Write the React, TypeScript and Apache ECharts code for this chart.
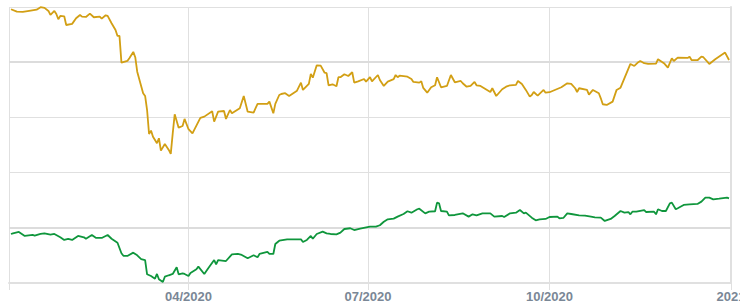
import React, { useEffect, useRef } from "react";
import * as echarts from "echarts";

// Day offsets from 1 Jan 2020
const goldDays = [1,4,7,11,14,16,18,20,21,23,24,25,26,28,29,32,34,36,37,39,41,43,46,47,49,50,52,54,55,56,57,60,61,63,64,65,68,69,70,71,72,73,75,76,77,79,81,82,83,84,86,88,89,91,93,95,97,99,103,104,106,109,110,112,113,117,119,121,124,125,126,131,132,134,135,137,138,140,142,146,148,149,152,153,154,156,158,160,161,162,164,166,167,168,170,172,174,175,177,180,181,183,184,187,188,190,192,195,196,197,198,202,204,205,208,209,210,212,214,216,217,219,222,224,226,229,230,232,234,236,237,239,244,245,247,250,252,254,257,258,260,262,264,265,266,268,271,272,274,280,283,285,287,288,289,293,294,296,299,300,301,303,306,308,310,315,317,319,320,322,324,328,329,332,334,336,337,339,344,345,346,349,351,352,355,358,363,365];
const goldValues = [248.0,245.8,245.5,246.7,247.6,249.8,249.2,246.4,242.8,246.4,243.7,238.9,241.9,241.6,233.7,234.7,239.8,242.8,241.3,241.0,244.0,240.7,241.3,239.5,242.5,241.9,235.3,229.2,223.8,223.8,199.6,201.1,203.6,209.3,204.5,191.4,171.9,169.4,156.7,135.0,138.0,132.5,126.6,131.1,119.9,125.9,120.5,116.9,135.6,152.8,140.7,142.2,148.6,139.3,135.6,142.5,149.5,150.7,155.6,146.1,155.2,155.8,148.6,156.7,153.7,158.3,169.4,155.2,154.3,158.3,162.2,162.2,164.3,153.7,162.2,170.3,171.2,171.9,169.4,174.2,181.5,174.9,180.3,189.4,186.0,197.2,196.9,190.5,190.0,179.1,180.0,178.2,186.4,186.4,189.1,187.5,190.9,181.5,182.7,184.8,182.4,186.4,182.7,188.4,183.9,178.5,182.4,184.6,188.4,186.4,187.8,186.9,184.8,182.1,181.5,182.7,176.7,172.4,177.3,179.1,186.4,177.3,178.5,188.4,181.8,183.0,180.9,177.8,178.5,182.1,179.1,178.5,173.0,176.4,169.4,175.5,177.8,179.1,179.4,183.0,180.3,174.9,168.8,170.3,173.0,169.7,174.9,172.4,172.8,177.3,180.9,180.3,176.4,173.0,176.4,174.9,170.6,174.9,171.9,167.3,161.9,161.3,164.3,174.9,176.9,198.4,196.6,200.0,201.1,199.1,198.4,198.7,202.7,199.1,195.1,203.6,201.1,204.1,203.9,205.0,202.0,201.8,205.0,204.5,198.4,202.7,208.7,202.0];

const greenDays = [1,2,5,8,12,13,16,18,21,23,26,28,30,32,35,38,39,42,44,47,50,52,55,57,58,60,63,65,67,69,70,72,74,75,76,78,79,81,83,85,86,88,89,91,92,95,96,99,101,104,105,106,110,113,116,118,121,124,126,127,131,132,134,135,137,141,148,149,151,153,154,156,159,161,163,166,168,170,173,175,178,183,186,188,190,192,195,197,200,202,204,207,208,211,213,216,217,218,219,222,223,226,230,233,235,237,240,244,246,250,251,254,257,259,261,262,265,267,269,272,274,278,279,281,283,285,289,292,295,297,300,302,305,307,310,312,314,315,316,318,322,323,327,328,329,331,333,335,336,338,339,342,345,349,351,353,355,357,360,364,365];
const greenValues = [44.4,45.0,46.2,42.6,43.5,42.9,44.4,45.0,43.8,44.4,41.4,39.0,39.9,39.0,42.6,41.4,40.1,43.5,41.0,40.8,43.5,40.1,36.5,26.9,24.7,24.5,27.5,25.1,21.7,20.8,7.9,6.3,3.9,8.2,3.4,0.9,5.7,7.0,8.2,14.2,7.9,8.8,8.2,6.3,9.1,12.4,14.8,8.2,13.3,20.8,16.9,20.8,19.9,26.0,26.3,25.4,22.4,25.1,23.3,26.3,28.1,26.3,26.3,35.3,38.3,39.6,39.6,37.1,39.0,42.6,40.1,44.4,46.5,45.0,44.4,44.1,45.6,48.9,49.6,48.0,49.2,51.0,51.0,52.3,55.5,57.7,58.3,60.1,62.5,65.0,63.7,66.8,67.3,63.1,64.6,65.0,72.8,72.2,65.2,64.6,61.3,61.6,63.1,60.1,62.2,61.3,63.1,63.1,60.1,60.7,59.8,63.1,63.7,66.1,63.1,63.7,59.2,56.8,57.7,58.0,59.8,60.1,58.6,58.9,63.1,62.5,61.3,61.0,60.1,59.5,59.2,56.2,58.0,60.7,65.2,63.7,64.3,62.2,64.6,64.6,66.1,64.3,64.6,62.2,66.8,65.2,65.2,72.2,72.8,66.8,67.7,70.7,71.3,71.6,73.7,77.3,77.3,75.8,76.4,77.3,76.7];

const highlightLevels = [50, 200];

const toTime = (d: number) => new Date(2020, 0, 1 + d).getTime();

export default function App() {
  const ref = useRef<HTMLDivElement>(null);
  useEffect(() => {
    document.body.style.margin = "0";
    const chart = echarts.init(ref.current!, undefined, { renderer: "svg" });
    const grid = "#e0e0e0";
    const startTime = toTime(0);
    chart.setOption({
      animation: false,
      grid: { left: 9, right: 9, top: 7, bottom: 24, containLabel: false, outerBoundsMode: "none" },
      xAxis: {
        type: "time",
        min: startTime,
        max: toTime(366),
        splitNumber: 4,
        axisLine: { show: true, lineStyle: { color: grid, width: 2 } },
        axisTick: { show: true, length: 7, lineStyle: { color: grid } },
        splitLine: { show: true, lineStyle: { color: grid, width: 1 } },
        axisLabel: {
          showMinLabel: false,
          showMaxLabel: true,
          hideOverlap: false,
          margin: 7,
          color: "#7a8796",
          fontWeight: "bold",
          fontSize: 13,
          fontFamily: "Liberation Sans, Arial, sans-serif",
          formatter: (val: number) => {
            if (val <= startTime) return "";
            const d = new Date(val);
            const m = d.getMonth();
            if (m === 0) return String(d.getFullYear());
            return String(m + 1).padStart(2, "0") + "/" + d.getFullYear();
          },
        },
      },
      yAxis: [
        {
          type: "value",
          min: 0,
          max: 250,
          interval: 50,
          axisLabel: { show: false },
          axisLine: { show: false },
          axisTick: { show: false },
          splitLine: { show: true, lineStyle: { color: grid, width: 1 } },
        },
        {
          type: "value",
          position: "right",
          min: 0,
          max: 250,
          interval: 50,
          axisLabel: { show: false },
          axisLine: { show: true, lineStyle: { color: grid, width: 2 } },
          axisTick: { show: false },
          splitLine: { show: false },
        },
      ],
      series: [
        {
          type: "line",
          data: goldDays.map((d, i) => [toTime(d), goldValues[i]]),
          showSymbol: false,
          lineStyle: { color: "#d29f14", width: 1.8 },
          itemStyle: { color: "#d29f14" },
          markLine: {
            silent: true,
            symbol: "none",
            label: { show: false },
            lineStyle: { color: "#dcdcdc", width: 2, type: "solid" },
            data: highlightLevels.map((v) => ({ yAxis: v })),
            z: 1,
          },
          z: 3,
        },
        {
          type: "line",
          data: greenDays.map((d, i) => [toTime(d), greenValues[i]]),
          showSymbol: false,
          lineStyle: { color: "#0f963c", width: 1.8 },
          itemStyle: { color: "#0f963c" },
          z: 3,
        },
      ],
    });
    return () => chart.dispose();
  }, []);
  return <div ref={ref} style={{ width: 740, height: 307 }} />;
}
